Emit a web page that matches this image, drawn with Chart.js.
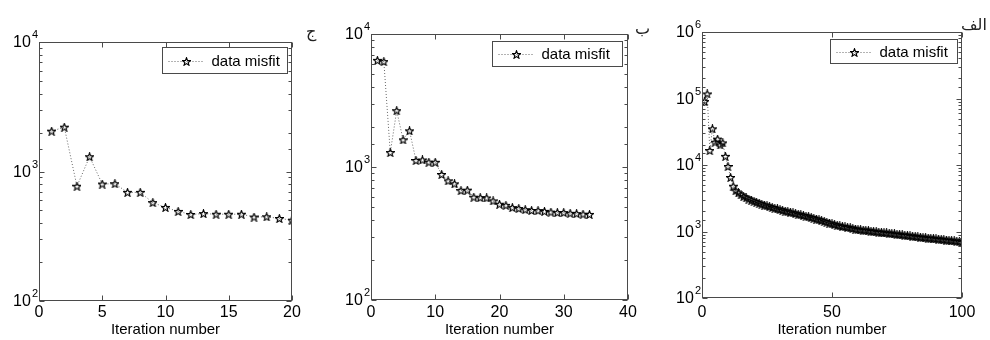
<!DOCTYPE html>
<html>
<head>
<meta charset="utf-8">
<script src="https://cdn.jsdelivr.net/npm/chart.js@4.4.1/dist/chart.umd.min.js"></script>
<style>
  html, body { margin: 0; padding: 0; background: #fff; }
  #wrap { position: relative; width: 990px; height: 340px; overflow: hidden; }
  .panel { position: absolute; top: 0; width: 330px; height: 340px; }
  .tag { position: absolute; font-family: 'DejaVu Sans', sans-serif; font-size: 16px; color: #222; line-height: 1; }
</style>
</head>
<body>
<div id="wrap">
  <div class="panel" style="left:0"><canvas id="c1" width="330" height="340"></canvas></div>
  <div class="panel" style="left:330px"><canvas id="c2" width="330" height="340"></canvas></div>
  <div class="panel" style="left:660px"><canvas id="c3" width="330" height="340"></canvas></div>
  <div class="tag" style="left:306px;top:24px">ج</div>
  <div class="tag" style="left:635px;top:21px">ب</div>
  <div class="tag" style="left:961px;top:17px">الف</div>
</div>
<script>
// ── Data ───────────────────────────────────────────────
const LEGEND_LABEL = 'data misfit';
const X_TITLE      = 'Iteration number';

// panel ج : 20 iterations
const misfitC = [2050, 2200, 770, 1300, 800, 805, 690, 690, 575, 528,
                 492, 466, 473, 468, 468, 468, 445, 447, 434, 421];

// panel ب : 34 iterations
const misfitB = [6340, 6200, 1285, 2650, 1600, 1870, 1120, 1130, 1087, 1085,
                 879, 787, 747, 665, 670, 593, 588, 585, 556, 525,
                 515, 495, 487, 478, 471, 470, 464, 458, 454, 454,
                 449, 446, 442, 440];

// panel الف : 100 iterations
const misfitA = [90000, 117000, 16500, 35000, 22000, 24500, 20000, 21500, 13500, 9500,
                 6500, 4800, 4100, 3800, 3550, 3350, 3200, 3080, 2960, 2850,
                 2750, 2660, 2580, 2500, 2430, 2360, 2300, 2240, 2180, 2130,
                 2080, 2030, 1990, 1950, 1900, 1860, 1820, 1780, 1740, 1700,
                 1660, 1620, 1580, 1540, 1500, 1460, 1420, 1380, 1340, 1300,
                 1270, 1240, 1210, 1190, 1170, 1150, 1130, 1110, 1090, 1070,
                 1060, 1050, 1040, 1030, 1010, 1000, 990, 980, 970, 960,
                 950, 940, 930, 920, 910, 900, 890, 880, 870, 860,
                 850, 840, 830, 820, 812, 805, 798, 790, 782, 775,
                 768, 760, 752, 745, 738, 730, 722, 715, 705, 690];

const xMaxC = 20,  xStepC = 5;
const xMaxB = 40,  xStepB = 10;
const xMaxA = 100, xStepA = 50;
const yMinAll = 100;
const yMaxC = 1e4, yMaxB = 1e4, yMaxA = 1e6;

// ── Helpers ────────────────────────────────────────────
const FONT = "'Liberation Sans', Arial, sans-serif";
const INK  = '#000';
const AXIS = '#4a4a4a';

function _starImg(size) {
  const c = document.createElement('canvas');
  c.width = c.height = size;
  const g = c.getContext('2d');
  const cx = size / 2, cy = size / 2 + 0.4, R = size / 2 - 0.3, r = R * 0.42;
  g.beginPath();
  for (let i = 0; i < 10; i++) {
    const ang = -Math.PI / 2 + i * Math.PI / 5;
    const rad = i % 2 ? r : R;
    g.lineTo(cx + rad * Math.cos(ang), cy + rad * Math.sin(ang));
  }
  g.closePath();
  g.strokeStyle = '#000';
  g.lineWidth = 1.1;
  g.stroke();
  return c;
}
const STAR = _starImg(9);

function _isPow10(v) {
  const l = Math.log10(v);
  return Math.abs(l - Math.round(l)) < 1e-9;
}

// ── Plugins ────────────────────────────────────────────
// MATLAB-like box with inward ticks, plus 10^n labels
const _framePlugin = {
  id: 'matFrame',
  afterDraw(chart) {
    const { ctx, chartArea: a, scales: { x, y } } = chart;
    const L = Math.round(a.left) + 0.5, R = Math.round(a.right) - 0.5;
    const T = Math.round(a.top) + 0.5,  B = Math.round(a.bottom) - 0.5;
    ctx.save();
    ctx.strokeStyle = AXIS;
    ctx.lineWidth = 1;
    ctx.strokeRect(L, T, R - L, B - T);
    ctx.beginPath();
    for (const t of x.ticks) {
      const px = Math.round(x.getPixelForValue(t.value)) + 0.5;
      ctx.moveTo(px, B); ctx.lineTo(px, B - 5);
      ctx.moveTo(px, T); ctx.lineTo(px, T + 5);
    }
    for (const t of y.ticks) {
      const py = Math.round(y.getPixelForValue(t.value)) + 0.5;
      const len = _isPow10(t.value) ? 5 : 3;
      ctx.moveTo(L, py); ctx.lineTo(L + len, py);
      ctx.moveTo(R, py); ctx.lineTo(R - len, py);
    }
    ctx.stroke();

    // y labels: "10" with superscript exponent
    ctx.fillStyle = INK;
    for (const t of y.ticks) {
      if (!_isPow10(t.value)) continue;
      const py = y.getPixelForValue(t.value);
      const exp = String(Math.round(Math.log10(t.value)));
      ctx.font = `11px ${FONT}`;
      ctx.textAlign = 'right';
      ctx.textBaseline = 'middle';
      const ew = ctx.measureText(exp).width;
      ctx.fillText(exp, a.left - 1, py - 7);
      ctx.font = `16px ${FONT}`;
      ctx.fillText('10', a.left - 2 - ew, py + 1);
    }
    ctx.restore();
  },
};

// legend box inside the top-right corner
const _legendPlugin = {
  id: 'insideLegend',
  afterDraw(chart, args, opts) {
    const { ctx, chartArea: a } = chart;
    const ds = chart.data.datasets[0];
    const w = opts.width || 126, h = opts.height || 25;
    const x0 = Math.round(a.right - (opts.inset || 5) - w) + 0.5;
    const y0 = Math.round(a.top + (opts.insetTop || 6)) + 0.5;
    ctx.save();
    ctx.fillStyle = '#fff';
    ctx.fillRect(x0, y0, w, h);
    ctx.strokeStyle = AXIS;
    ctx.lineWidth = 1;
    ctx.strokeRect(x0, y0, w, h);
    const cy = Math.round(y0 + h / 2) + 0.5;
    ctx.strokeStyle = '#666';
    ctx.setLineDash([1, 2]);
    ctx.beginPath();
    ctx.moveTo(x0 + 6, cy); ctx.lineTo(x0 + 41, cy);
    ctx.stroke();
    ctx.setLineDash([]);
    ctx.drawImage(STAR, Math.round(x0 + 24 - 4.5), Math.round(cy - 5));
    ctx.fillStyle = INK;
    ctx.font = `15px ${FONT}`;
    ctx.textAlign = 'left';
    ctx.textBaseline = 'middle';
    ctx.fillText(ds.label, x0 + 49, cy);
    ctx.restore();
  },
};

// ── Chart creation ─────────────────────────────────────
function _buildPanel(canvasId, values, cfg) {
  const pts = values.map((v, i) => ({ x: i + 1, y: v }));
  return new Chart(document.getElementById(canvasId), {
    type: 'line',
    data: {
      datasets: [{
        label: LEGEND_LABEL,
        data: pts,
        borderColor: '#666',
        borderWidth: 1,
        borderDash: [1, 2],
        pointStyle: STAR,
        pointRadius: 4.5,
        pointHoverRadius: 4.5,
        tension: 0,
      }],
    },
    options: {
      responsive: false,
      animation: false,
      devicePixelRatio: 1,
      layout: { padding: { top: cfg.top, right: cfg.right, left: 0, bottom: 0 } },
      scales: {
        x: {
          type: 'linear',
          min: 0, max: cfg.xMax,
          grid: { display: false, drawTicks: false },
          border: { display: false },
          ticks: {
            stepSize: cfg.xStep,
            color: INK,
            padding: cfg.tickPad,
            maxRotation: 0,
            font: { family: FONT, size: 16 },
          },
          title: {
            display: true, text: X_TITLE, color: INK,
            padding: { top: 0, bottom: 1 },
            font: { family: FONT, size: 15 },
          },
          afterFit(s) { s.height = cfg.xH; },
        },
        y: {
          type: 'logarithmic',
          min: yMinAll, max: cfg.yMax,
          grid: { display: false, drawTicks: false },
          border: { display: false },
          ticks: { display: false },
          afterFit(s) { s.width = cfg.yW; },
        },
      },
      plugins: {
        legend: { display: false },
        tooltip: { enabled: false },
        insideLegend: cfg.legend,
      },
    },
    plugins: [_framePlugin, _legendPlugin],
  });
}

_buildPanel('c1', misfitC, {
  xMax: xMaxC, xStep: xStepC, yMax: yMaxC,
  top: 42, right: 38, yW: 39, xH: 39, tickPad: 2,
  legend: { width: 125, height: 26, inset: 5, insetTop: 5 },
});
_buildPanel('c2', misfitB, {
  xMax: xMaxB, xStep: xStepB, yMax: yMaxB,
  top: 34, right: 32, yW: 41, xH: 40, tickPad: 3,
  legend: { width: 130, height: 25, inset: 6, insetTop: 7 },
});
_buildPanel('c3', misfitA, {
  xMax: xMaxA, xStep: xStepA, yMax: yMaxA,
  top: 32, right: 28, yW: 42, xH: 42, tickPad: 5,
  legend: { width: 127, height: 24, inset: 5, insetTop: 7 },
});
</script>
</body>
</html>
